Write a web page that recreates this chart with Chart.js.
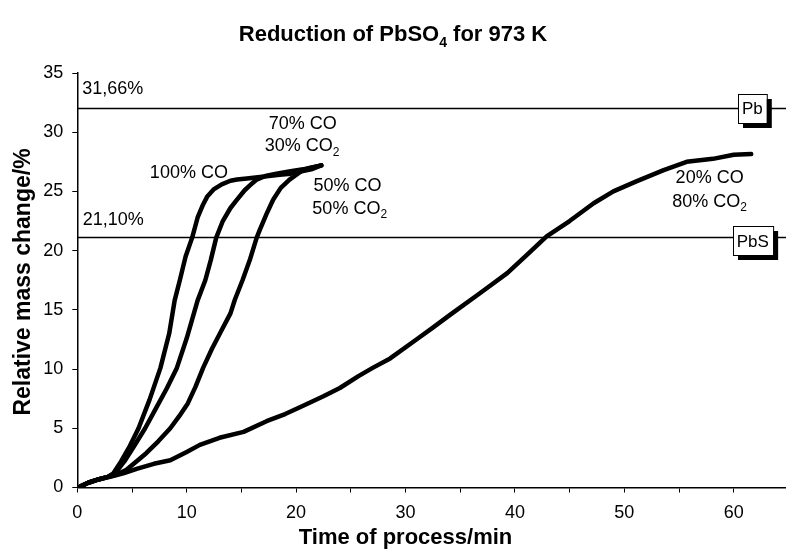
<!DOCTYPE html>
<html>
<head>
<meta charset="utf-8">
<script src="https://cdn.jsdelivr.net/npm/chart.js@4.4.0/dist/chart.umd.min.js"></script>
<style>
  html, body { margin: 0; padding: 0; background: #fff; overflow: hidden; }
  #wrap { width: 800px; height: 551px; }
</style>
</head>
<body>
<div id="wrap"><canvas id="chart" width="800" height="551"></canvas></div>
<script>
const FONT = '"Liberation Sans", Arial, Helvetica, sans-serif';

// 100% CO
const timeCO100 = [0.3, 1.0, 2.0, 2.8, 3.3, 4.0, 4.8, 5.6, 6.6, 7.6, 8.4, 8.9, 9.4, 9.9, 10.5, 11.0, 11.5, 11.9, 12.5, 13.2, 14.0, 14.6, 15.5, 16.5, 17.5, 18.5, 19.5, 20.5, 21.5, 22.3];
const massCO100 = [0.1, 0.4, 0.7, 0.9, 1.2, 2.2, 3.5, 5.0, 7.4, 10.1, 13.0, 15.8, 17.6, 19.5, 21.1, 22.8, 23.9, 24.6, 25.2, 25.6, 25.9, 26.0, 26.1, 26.2, 26.3, 26.4, 26.5, 26.7, 26.9, 27.2];

// 70% CO / 30% CO2
const timeCO70 = [0.3, 1.0, 2.0, 2.8, 3.45, 4.3, 5.2, 6.2, 7.2, 8.2, 9.1, 10.0, 11.0, 11.7, 12.2, 12.7, 13.3, 14.0, 14.6, 15.3, 16.0, 16.4, 17.2, 18.2, 19.5, 20.8, 22.3];
const massCO70 = [0.1, 0.4, 0.7, 0.9, 1.2, 2.2, 3.5, 5.0, 6.7, 8.4, 10.1, 12.6, 15.8, 17.5, 19.2, 21.1, 22.5, 23.6, 24.3, 25.1, 25.7, 26.0, 26.3, 26.5, 26.7, 26.9, 27.2];

// 50% CO / 50% CO2
const timeCO50 = [0.3, 1.0, 2.0, 2.8, 3.6, 4.5, 5.4, 6.3, 7.4, 8.5, 9.3, 10.1, 10.8, 11.5, 12.3, 13.2, 14.0, 14.4, 15.1, 15.8, 16.4, 16.7, 17.3, 17.9, 18.6, 19.4, 20.0, 20.6, 21.4, 22.3];
const massCO50 = [0.1, 0.4, 0.7, 0.9, 1.1, 1.5, 2.2, 2.9, 3.9, 5.0, 6.0, 7.1, 8.5, 10.1, 11.7, 13.3, 14.7, 15.85, 17.5, 19.3, 21.1, 21.8, 23.1, 24.3, 25.3, 26.0, 26.4, 26.8, 27.0, 27.2];

// 20% CO / 80% CO2
const timeCO20 = [0.3, 1.0, 2.0, 3.0, 4.2, 5.5, 7.0, 8.5, 10.0, 11.2, 13.0, 15.2, 17.3, 19.0, 20.4, 22.5, 24.0, 25.7, 27.0, 28.6, 31.0, 32.5, 34.1, 36.8, 39.3, 41.1, 42.9, 45.0, 47.2, 49.0, 51.1, 53.6, 55.7, 58.1, 60.0, 61.6];
const massCO20 = [0.1, 0.4, 0.7, 0.9, 1.2, 1.6, 2.0, 2.3, 3.0, 3.6, 4.2, 4.7, 5.6, 6.2, 6.8, 7.7, 8.4, 9.4, 10.1, 10.9, 12.5, 13.5, 14.6, 16.4, 18.1, 19.65, 21.2, 22.5, 24.0, 25.0, 25.85, 26.8, 27.5, 27.75, 28.1, 28.15];

// theoretical levels (Pb, PbS) and axis ranges
const levelPb = 32.0;
const levelPbS = 21.1;
const levelNames = ['Pb', 'PbS'];
const levelTexts = ['31,66%', '21,10%'];
const xRange = [0, 65];
const yRange = [0, 35];

const toPoints = (ts, vs) => ts.map((t, i) => ({ x: t, y: vs[i] }));
const flat = (v) => [{ x: xRange[0], y: v }, { x: xRange[1], y: v }];

const curve = (data) => ({
  data, showLine: true, borderColor: '#000', borderWidth: 4.5,
  pointRadius: 0, tension: 0, borderJoinStyle: 'round', borderCapStyle: 'round'
});
const refLine = (data) => ({
  data, showLine: true, borderColor: '#000', borderWidth: 1.5, pointRadius: 0
});

// annotation placement (data coordinates)
const curveLabels = [
  { t: 10.2, v: 26.1, text: '100% CO' },
  { t: 20.6, v: 30.3, text: '70% CO' },
  { t: 20.55, v: 28.4, text: '30% CO', sub: '2' },
  { t: 24.7, v: 25.0, text: '50% CO' },
  { t: 24.9, v: 23.1, text: '50% CO', sub: '2' },
  { t: 57.8, v: 25.7, text: '20% CO' },
  { t: 57.8, v: 23.7, text: '80% CO', sub: '2' }
];
const levelLabels = [
  { t: 0.45, v: 33.2, text: levelTexts[0] },
  { t: 0.5, v: 22.15, text: levelTexts[1] }
];
const boxes = [
  { t: 61.7, v: levelPb, text: levelNames[0] },
  { t: 61.75, v: 20.82, text: levelNames[1] }
];

function drawSub(ctx, text, sub, px, py, size, bold, align) {
  const w = bold ? 'bold ' : '';
  const subSize = Math.round(size * 0.65);
  ctx.font = w + size + 'px ' + FONT;
  const w1 = ctx.measureText(text).width;
  ctx.font = w + subSize + 'px ' + FONT;
  const w2 = sub ? ctx.measureText(sub).width : 0;
  const x0 = align === 'left' ? px : px - (w1 + w2) / 2;
  ctx.textAlign = 'left';
  ctx.textBaseline = 'alphabetic';
  ctx.font = w + size + 'px ' + FONT;
  ctx.fillText(text, x0, py);
  if (sub) {
    ctx.font = w + subSize + 'px ' + FONT;
    ctx.fillText(sub, x0 + w1, py + size * 0.25);
  }
  return w1 + w2;
}

const annotate = {
  id: 'annotate',
  afterDraw(chart) {
    const { ctx } = chart;
    const x = chart.scales.x, y = chart.scales.y;
    ctx.save();
    ctx.fillStyle = '#000';

    curveLabels.forEach(l => drawSub(ctx, l.text, l.sub, x.getPixelForValue(l.t), y.getPixelForValue(l.v), 18, false, 'center'));
    levelLabels.forEach(l => drawSub(ctx, l.text, null, x.getPixelForValue(l.t), y.getPixelForValue(l.v), 18, false, 'left'));

    ctx.font = '17px ' + FONT;
    boxes.forEach(b => {
      const cx = x.getPixelForValue(b.t), cy = y.getPixelForValue(b.v);
      const bw = ctx.measureText(b.text).width + 8, bh = 29;
      const bx = Math.round(cx - bw / 2), by = Math.round(cy - bh / 2);
      ctx.fillStyle = '#000';
      ctx.fillRect(bx + 5, by + 5, bw, bh);
      ctx.fillStyle = '#fff';
      ctx.fillRect(bx, by, bw, bh);
      ctx.strokeStyle = '#000';
      ctx.lineWidth = 1;
      ctx.strokeRect(bx + 0.5, by + 0.5, bw, bh);
      ctx.fillStyle = '#000';
      ctx.textAlign = 'center';
      ctx.textBaseline = 'middle';
      ctx.fillText(b.text, cx, cy + 1);
    });

    // chart title with subscript, centred on the page
    ctx.fillStyle = '#000';
    ctx.font = 'bold 22px ' + FONT;
    const head = ctx.measureText('Reduction of PbSO').width;
    const tail = ctx.measureText(' for 973 K').width;
    ctx.font = 'bold 14px ' + FONT;
    const four = ctx.measureText('4').width;
    const tx = 393 - (head + four + tail) / 2;
    drawSub(ctx, 'Reduction of PbSO', '4', tx, 41, 22, true, 'left');
    ctx.font = 'bold 22px ' + FONT;
    ctx.fillText(' for 973 K', tx + head + four, 41);

    // axis titles
    ctx.textAlign = 'center';
    ctx.textBaseline = 'alphabetic';
    ctx.fillText('Time of process/min', x.getPixelForValue(30), 544);

    ctx.font = 'bold 23px ' + FONT;
    ctx.translate(30, 282);
    ctx.rotate(-Math.PI / 2);
    ctx.fillText('Relative mass change/%', 0, 0);
    ctx.restore();
  }
};

const tickFont = { family: FONT, size: 18 };

new Chart(document.getElementById('chart'), {
  type: 'scatter',
  data: {
    datasets: [
      refLine(flat(levelPb)),
      refLine(flat(levelPbS)),
      curve(toPoints(timeCO100, massCO100)),
      curve(toPoints(timeCO70, massCO70)),
      curve(toPoints(timeCO50, massCO50)),
      curve(toPoints(timeCO20, massCO20))
    ]
  },
  options: {
    responsive: false,
    animation: false,
    layout: { padding: { top: 73, right: 11.6, left: 0, bottom: 0 } },
    plugins: { legend: { display: false }, tooltip: { enabled: false } },
    scales: {
      x: {
        type: 'linear', min: xRange[0], max: xRange[1],
        ticks: { stepSize: 5, color: '#000', font: tickFont, padding: 10, maxRotation: 0,
          callback: v => (v % 10 === 0 ? v : '') },
        grid: { drawOnChartArea: false, drawTicks: true, tickLength: 5, color: '#000', lineWidth: 1 },
        border: { color: '#000', width: 1.5 },
        afterFit: s => { s.height = 63.5; }
      },
      y: {
        type: 'linear', min: yRange[0], max: yRange[1],
        ticks: { stepSize: 5, color: '#000', font: tickFont, padding: 9 },
        grid: { drawOnChartArea: false, drawTicks: true, tickLength: 5, color: '#000', lineWidth: 1 },
        border: { color: '#000', width: 1.5 },
        afterFit: s => { s.width = 77.3; }
      }
    }
  },
  plugins: [annotate]
});
</script>
</body>
</html>
